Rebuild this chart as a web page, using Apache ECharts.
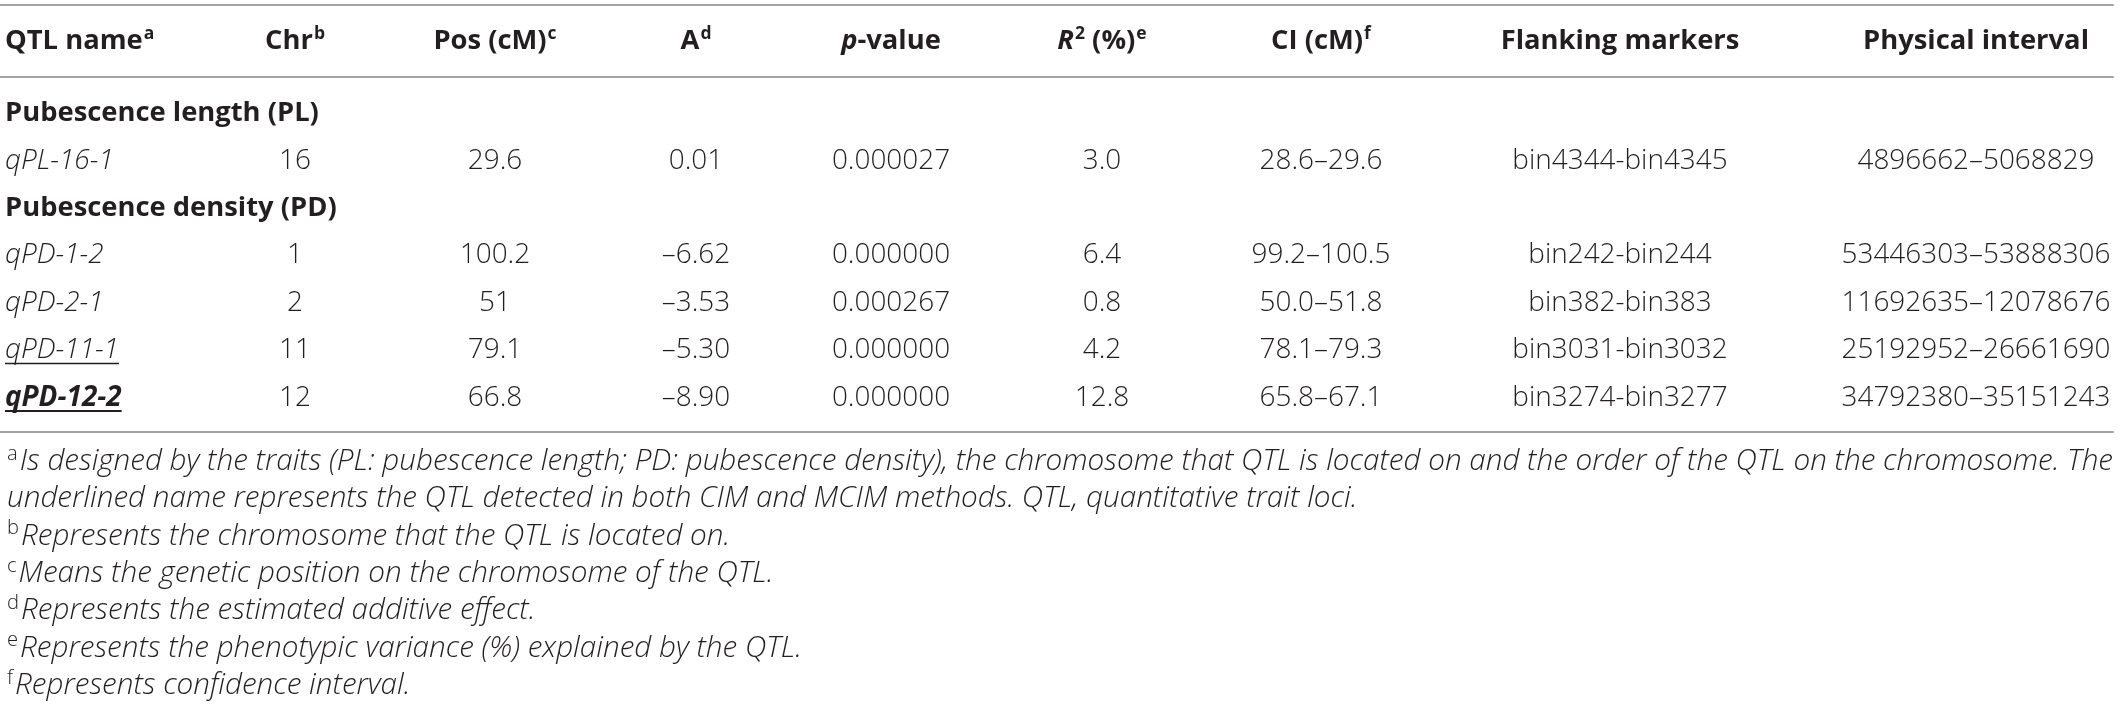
<!DOCTYPE html>
<html>
<head>
<meta charset="utf-8">
<script src="https://cdn.jsdelivr.net/npm/echarts@6/dist/echarts.min.js"></script>
<style>
html,body{margin:0;padding:0;background:#ffffff;}
#chart{width:2119px;height:706px;}
</style>
</head>
<body>
<div id="chart"></div>
<script>
// ---------------- data ----------------
const columnHeaders = [
  '{b|QTL name}{sup|a}',
  '{b|Chr}{sup|b}',
  '{b|Pos (cM)}{sup|c}',
  '{b|A}{sup|d}',
  '{bi|p}{b|-value}',
  '{bi|R}{sup|2}{b| (%)}{sup|e}',
  '{b|CI (cM)}{sup|f}',
  '{b|Flanking markers}',
  '{b|Physical interval}'
];
const traitGroups = ['Pubescence length (PL)', 'Pubescence density (PD)'];
const qtlNames = ['qPL-16-1', 'qPD-1-2', 'qPD-2-1', 'qPD-11-1', 'qPD-12-2'];
const qtlGroup = [0, 1, 1, 1, 1];
const qtlUnderlined = [false, false, false, true, true];
const qtlBold = [false, false, false, false, true];
const chromosomes = [16, 1, 2, 11, 12];
const positionsCM = [29.6, 100.2, 51, 79.1, 66.8];
const additiveEffects = [0.01, -6.62, -3.53, -5.30, -8.90];
const pValues = [0.000027, 0.000000, 0.000267, 0.000000, 0.000000];
const r2Percent = [3.0, 6.4, 0.8, 4.2, 12.8];
const ciLow = [28.6, 99.2, 50.0, 78.1, 65.8];
const ciHigh = [29.6, 100.5, 51.8, 79.3, 67.1];
const markerLeft = ['bin4344', 'bin242', 'bin382', 'bin3031', 'bin3274'];
const markerRight = ['bin4345', 'bin244', 'bin383', 'bin3032', 'bin3277'];
const physStart = [4896662, 53446303, 11692635, 25192952, 34792380];
const physEnd = [5068829, 53888306, 12078676, 26661690, 35151243];
const footnotes = [
  ['a', 'Is designed by the traits (PL: pubescence length; PD: pubescence density), the chromosome that QTL is located on and the order of the QTL on the chromosome. The'],
  ['', 'underlined name represents the QTL detected in both CIM and MCIM methods. QTL, quantitative trait loci.'],
  ['b', 'Represents the chromosome that the QTL is located on.'],
  ['c', 'Means the genetic position on the chromosome of the QTL.'],
  ['d', 'Represents the estimated additive effect.'],
  ['e', 'Represents the phenotypic variance (%) explained by the QTL.'],
  ['f', 'Represents confidence interval.']
];

// ---------------- layout / style ----------------
const FONT = '"Open Sans", "DejaVu Sans", sans-serif';
const TEXT = '#231f20';
const RULE = '#a3a3a3';
const colAnchor = [5, 295, 495, 696, 891, 1102, 1321, 1620, 1976];

const measureCtx = document.createElement('canvas').getContext('2d');
function textWidth(text, weight, style, size) {
  measureCtx.font = style + ' ' + weight + ' ' + size + 'px ' + FONT;
  return measureCtx.measureText(text).width;
}
// font sizes fitted so that sample strings span the widths seen in the reference
function fitSize(samples, weight, style) {
  let s = 0;
  samples.forEach(([t, w]) => { s += 100 * w / textWidth(t, weight, style, 100); });
  return s / samples.length;
}
const HEAD_SIZE = fitSize([['Physical interval', 225], ['Flanking markers', 240]], 'bold', 'normal');
const BODY_SIZE = fitSize([['bin4344-bin4345', 216], ['4896662\u20135068829', 241], ['0.000027', 116]], 300, 'normal');
const FOOT_SIZE = fitSize([[footnotes[0][1], 2088], [footnotes[2][1], 712]], 300, 'italic');
const SUP_HEAD = HEAD_SIZE * 0.64;
const SUP_FOOT = FOOT_SIZE * 0.68;

const dash = s => s.replace('-', '\u2013');
function rowTexts(i) {
  return [
    qtlNames[i],
    String(chromosomes[i]),
    String(positionsCM[i]),
    dash(additiveEffects[i].toFixed(2)),
    pValues[i].toFixed(6),
    r2Percent[i].toFixed(1),
    ciLow[i].toFixed(1) + '\u2013' + ciHigh[i].toFixed(1),
    markerLeft[i] + '-' + markerRight[i],
    physStart[i] + '\u2013' + physEnd[i]
  ];
}

// build body cells (row index increases downward)
const cells = [];
let row = 0;
traitGroups.forEach((g, gi) => {
  cells.push({col: 0, row: row, text: g, weight: 'bold', italic: false});
  row++;
  qtlNames.forEach((n, i) => {
    if (qtlGroup[i] !== gi) return;
    rowTexts(i).forEach((t, c) => {
      cells.push({
        col: c, row: row, text: t,
        weight: c === 0 && qtlBold[i] ? 'bold' : 300,
        italic: c === 0,
        underline: c === 0 && qtlUnderlined[i]
      });
    });
    row++;
  });
});
const lastRow = row - 1;

function renderBody(params, api) {
  const c = cells[params.dataIndex];
  const pt = api.coord([api.value(0), api.value(1)]);
  const fs = c.weight === 'bold' && !c.italic ? HEAD_SIZE : BODY_SIZE;
  const children = [{
    type: 'text',
    style: {
      text: c.text, x: pt[0], y: pt[1],
      align: c.col === 0 ? 'left' : 'center', verticalAlign: 'middle',
      fill: TEXT, fontFamily: FONT, fontSize: fs,
      fontWeight: c.weight, fontStyle: c.italic ? 'italic' : 'normal'
    }
  }];
  if (c.underline) {
    const w = textWidth(c.text, c.weight, c.italic ? 'italic' : 'normal', fs);
    const uy = pt[1] + 13;
    children.push({
      type: 'line',
      shape: {x1: pt[0], y1: uy, x2: pt[0] + w, y2: uy},
      style: {stroke: TEXT, lineWidth: c.weight === 'bold' ? 2.2 : 1.4}
    });
  }
  return {type: 'group', children: children};
}

const headRich = {
  b: {fontFamily: FONT, fontSize: HEAD_SIZE, fontWeight: 'bold', fill: TEXT, lineHeight: 34},
  bi: {fontFamily: FONT, fontSize: HEAD_SIZE, fontWeight: 'bold', fontStyle: 'italic', fill: TEXT, lineHeight: 34},
  sup: {fontFamily: FONT, fontSize: SUP_HEAD, fontWeight: 'bold', fill: TEXT, lineHeight: 34, verticalAlign: 'top', padding: [1, 0, 0, 1]}
};

function renderHead(params, api) {
  const i = params.dataIndex;
  const pt = api.coord([api.value(0), api.value(1)]);
  return {
    type: 'text',
    style: {
      text: columnHeaders[i], x: pt[0], y: pt[1],
      align: i === 0 ? 'left' : 'center', verticalAlign: 'middle',
      rich: headRich
    }
  };
}

// footnote rich text
const footRich = {
  it: {fontFamily: FONT, fontSize: FOOT_SIZE, fontWeight: 300, fontStyle: 'italic', fill: TEXT, lineHeight: 37.3},
  sup: {fontFamily: FONT, fontSize: SUP_FOOT, fontWeight: 300, fill: TEXT, lineHeight: 37.3, verticalAlign: 'top', padding: [1, 2, 0, 0]}
};
const footText = footnotes.map(f => (f[0] ? '{sup|' + f[0] + '}' : '') + '{it|' + f[1] + '}').join('\n');

const noDecor = {axisLabel: {show: false}, axisTick: {show: false}, splitLine: {show: false}};
const ruleAxis = (grid, pos) => Object.assign({
  type: 'value', gridIndex: grid, min: 0, max: 2113, position: pos,
  axisLine: {show: true, onZero: false, lineStyle: {color: RULE, width: 2}}
}, noDecor);

const chart = echarts.init(document.getElementById('chart'), null, {renderer: 'canvas'});
chart.setOption({
  animation: false,
  backgroundColor: '#ffffff',
  grid: [
    {left: 0, right: 6, top: 5, height: 72},
    {left: 0, right: 6, top: 77, height: 355}
  ],
  xAxis: [ruleAxis(0, 'top'), ruleAxis(1, 'top'), ruleAxis(1, 'bottom')],
  yAxis: [
    {type: 'category', gridIndex: 0, data: ['header'], show: false},
    {type: 'value', gridIndex: 1, inverse: true, min: -0.76, max: lastRow + 0.716, show: false}
  ],
  series: [
    {
      type: 'custom', xAxisIndex: 0, yAxisIndex: 0,
      renderItem: renderHead,
      data: columnHeaders.map((h, i) => [colAnchor[i], 0]),
      silent: true
    },
    {
      type: 'custom', xAxisIndex: 1, yAxisIndex: 1,
      renderItem: renderBody,
      data: cells.map(c => [colAnchor[c.col], c.row]),
      silent: true
    }
  ],
  graphic: [{
    type: 'text', left: 7, top: 443,
    style: {text: footText, rich: footRich}
  }]
});
</script>
</body>
</html>
